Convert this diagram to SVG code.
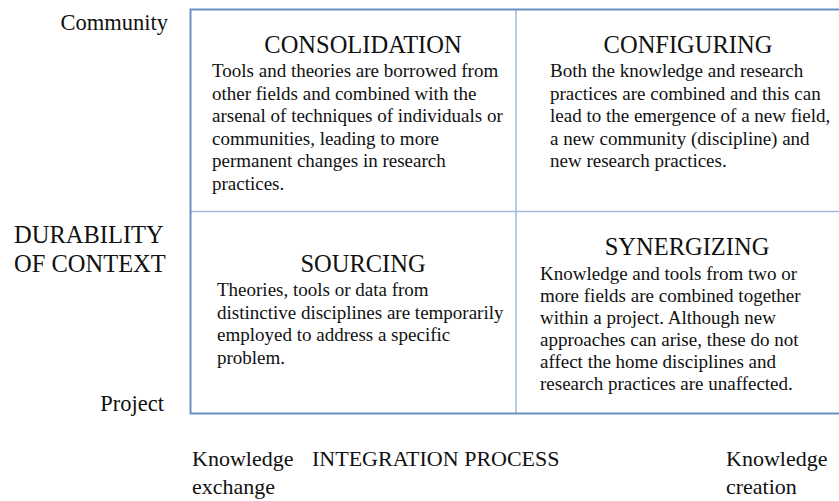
<svg xmlns="http://www.w3.org/2000/svg" width="839" height="501" viewBox="0 0 839 501" font-family="'Liberation Serif', 'Times New Roman', Tinos, 'DejaVu Serif', serif">
<style>
text{font-family:'Liberation Serif','Times New Roman',Tinos,'DejaVu Serif',serif;fill:#111}
.lbl{font-size:22.5px}
.ax{font-size:24.5px}
.h{font-size:24.5px;text-anchor:middle}
.b{font-size:19px}
.bt{font-size:22px}
.outer{stroke:#6a8fc2;stroke-width:2;fill:none}
.inner{stroke:#9fbadb;stroke-width:1.5;fill:none}
</style>
<rect width="839" height="501" fill="#fff"/>
<g id="connectors">
<path class="inner" d="M516,9 V414 M190,211.5 H839"/>
<path class="outer" d="M839,9.5 H190.5 V413.5 H839"/>
</g>
<g id="axis-y">
<text class="lbl" x="168" y="30" text-anchor="end">Community</text>
<text class="ax" x="14" y="243">DURABILITY</text>
<text class="ax" x="14" y="272">OF CONTEXT</text>
<text class="lbl" x="164" y="411" text-anchor="end">Project</text>
</g>
<g id="consolidation">
<text class="h" x="363" y="53">CONSOLIDATION</text>
<text class="b" x="212" y="77">Tools and theories are borrowed from</text>
<text class="b" x="212" y="99.5">other fields and combined with the</text>
<text class="b" x="212" y="122">arsenal of techniques of individuals or</text>
<text class="b" x="212" y="144.5">communities, leading to more</text>
<text class="b" x="212" y="167">permanent changes in research</text>
<text class="b" x="212" y="189.5">practices.</text>
</g>
<g id="configuring">
<text class="h" x="688" y="53">CONFIGURING</text>
<text class="b" x="550" y="77">Both the knowledge and research</text>
<text class="b" x="550" y="99.5">practices are combined and this can</text>
<text class="b" x="550" y="122">lead to the emergence of a new field,</text>
<text class="b" x="550" y="144.5">a new community (discipline) and</text>
<text class="b" x="550" y="167">new research practices.</text>
</g>
<g id="sourcing">
<text class="h" x="363" y="272">SOURCING</text>
<text class="b" x="217" y="296">Theories, tools or data from</text>
<text class="b" x="217" y="318.5">distinctive disciplines are temporarily</text>
<text class="b" x="217" y="341">employed to address a specific</text>
<text class="b" x="217" y="363.5">problem.</text>
</g>
<g id="synergizing">
<text class="h" x="687" y="255">SYNERGIZING</text>
<text class="b" x="540" y="280">Knowledge and tools from two or</text>
<text class="b" x="540" y="302">more fields are combined together</text>
<text class="b" x="540" y="324">within a project. Although new</text>
<text class="b" x="540" y="346">approaches can arise, these do not</text>
<text class="b" x="540" y="368">affect the home disciplines and</text>
<text class="b" x="540" y="390">research practices are unaffected.</text>
</g>
<g id="axis-x">
<text class="bt" x="192" y="466">Knowledge</text>
<text class="bt" x="192" y="494">exchange</text>
<text class="bt" x="312" y="466">INTEGRATION PROCESS</text>
<text class="bt" x="726" y="466">Knowledge</text>
<text class="bt" x="726" y="494">creation</text>
</g>
</svg>
